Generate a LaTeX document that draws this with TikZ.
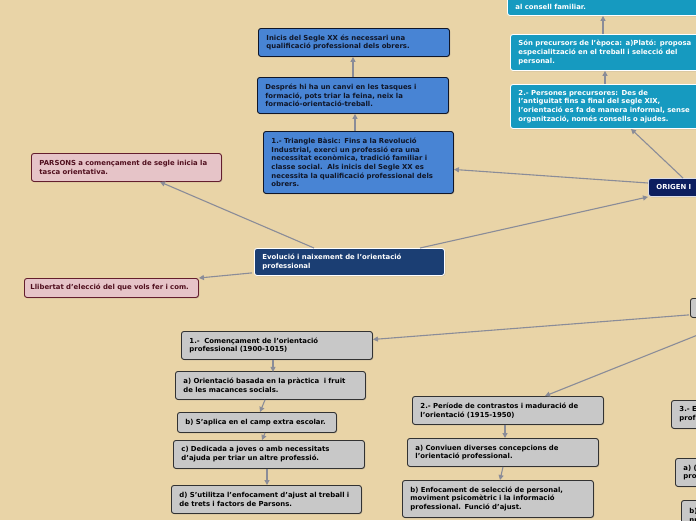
\documentclass[tikz,border=0pt]{standalone}
\usepackage{fontspec}
\setmainfont{DejaVu Sans}
\usetikzlibrary{arrows.meta,calc,shadows}
\definecolor{bg}{RGB}{233,212,167}
\definecolor{bluebox}{RGB}{72,132,212}
\definecolor{bluetext}{RGB}{16,22,40}
\definecolor{tealbox}{RGB}{22,154,192}
\definecolor{navyA}{RGB}{27,62,115}
\definecolor{navyB}{RGB}{12,30,95}
\definecolor{pinkbox}{RGB}{230,196,200}
\definecolor{pinkline}{RGB}{100,30,45}
\definecolor{pinktext}{RGB}{80,15,30}
\definecolor{graybox}{RGB}{200,200,200}
\definecolor{grayline}{RGB}{50,50,50}
\definecolor{conn}{RGB}{138,140,152}
\tikzset{
  base/.style={anchor=north west, rounded corners=2.5pt, line width=0.9pt,
    inner xsep=8pt, inner ysep=1pt, align=left,
    font=\fontsize{6.9}{8.7}\selectfont\bfseries,
    drop shadow={shadow xshift=0.8pt, shadow yshift=-0.8pt, opacity=0.35}},
  bluenode/.style={base, fill=bluebox, draw=bluetext, text=bluetext},
  tealnode/.style={base, fill=tealbox, draw=white, text=white},
  navynode/.style={base, fill=navyA, draw=white, text=white},
  darknode/.style={base, fill=navyB, draw=white!85!navyB, text=white},
  pinknode/.style={base, fill=pinkbox, draw=pinkline, text=pinktext},
  graynode/.style={base, fill=graybox, draw=grayline, text=black},
  arr/.style={draw=conn, line width=1.1pt, -{Triangle[width=5pt,length=5pt]}},
}
\newcommand{\bx}[6]{\node[#1, text width=#4pt-16pt, minimum height=#5pt] (#2) at (#3) {#6};}
\begin{document}
\begin{tikzpicture}[x=1pt,y=-1pt]
\fill[bg] (0,0) rectangle (696,520);
\useasboundingbox (0,0) rectangle (696,520);
\clip (0,0) rectangle (696,520);

% blue column
\bx{bluenode}{inicis}{258,28}{191}{28}{Inicis del Segle XX és necessari una\\qualificació professional dels obrers.}
\bx{bluenode}{despres}{257,77}{191}{36}{Després hi ha un canvi en les tasques i\\formació, pots triar la feina, neix la\\formació-orientació-treball.}
\bx{bluenode}{triangle}{263,131}{190}{62}{1.- Triangle Bàsic: Fins a la Revolució\\Industrial, exerci un professió era una\\necessitat econòmica, tradició familiar i\\classe social.\ \ Als inicis del Segle XX es\\necessita la qualificació professional dels\\obrers.}

% teal column
\bx{tealnode}{topteal}{507,-3}{200}{18}{al consell familiar.}
\bx{tealnode}{sonprec}{510,34}{200}{36}{Són precursors de l'època: a)Plató: proposa\\especialització en el treball i selecció del\\personal.}
\bx{tealnode}{persones}{510,84}{200}{44}{2.- Persones precursores: Des de\\l'antiguitat fins a final del segle XIX,\\l'orientació es fa de manera informal, sense\\organització, només consells o ajudes.}
\bx{darknode}{origen}{648,178}{90}{18}{ORIGEN I}

% pink
\bx{pinknode}{parsons}{31,153}{190}{28}{PARSONS a començament de segle inicia la\\tasca orientativa.}
\node[pinknode, inner xsep=6pt, text width=162pt, minimum height=19pt] (llibertat) at (24,278) {Llibertat d'elecció del que vols fer i com.};

% center
\bx{navynode}{evolucio}{254,248}{190}{27}{Evolució i naixement de l'orientació\\professional}

% gray
\bx{graynode}{rgray}{690,298}{100}{19}{}
\bx{graynode}{comenc}{181,331}{191}{28}{1.-\ \ Començament de l'orientació\\professional (1900-1015)}
\bx{graynode}{ca}{175,371}{190}{28}{a) Orientació basada en la pràctica\ \ i fruit\\de les macances socials.}
\bx{graynode}{cb}{177,412}{159}{20}{b) S'aplica en el camp extra escolar.}
\bx{graynode}{cc}{173,440}{191}{28}{c) Dedicada a joves o amb necessitats\\d'ajuda per triar un altre professió.}
\bx{graynode}{cd}{171,485}{190}{28}{d) S'utilitza l'enfocament d'ajust al treball i\\de trets i factors de Parsons.}
\bx{graynode}{periode}{412,396}{191}{28}{2.- Període de contrastos i maduració de\\l'orientació (1915-1950)}
\bx{graynode}{pa}{407,438}{191}{28}{a) Conviuen diverses concepcions de\\l'orientació professional.}
\bx{graynode}{pb}{402,480}{191}{37}{b) Enfocament de selecció de personal,\\moviment psicomètric i la informació\\professional. Funció d'ajust.}
\bx{graynode}{e3}{671,400}{60}{28}{3.- E\\prof}
\bx{graynode}{e3a}{675,458}{60}{28}{a) (\\pro}
\bx{graynode}{e3b}{681,500}{60}{30}{b)\\nu}

% connectors
\draw[arr] ($(evolucio.north west)+(166,0)$) -- (origen.south west);
\draw[arr] ($(evolucio.north west)+(60,0)$) -- ($(parsons.south west)+(129,0)$);
\draw[arr] ($(evolucio.south west)+(-2,-3)$) -- (llibertat.north east);
\draw[arr] ($(origen.north west)+(0,5)$) -- ($(triangle.east)+(0,7)$);
\draw[arr] ($(origen.north west)+(35,0)$) -- ($(persones.south west)+(121,0)$);
\draw[arr] ($(persones.north west)+(95,0)$) -- ($(sonprec.south west)+(95,0)$);
\draw[arr] ($(sonprec.north west)+(93,0)$) -- ($(topteal.south west)+(96,0)$);
\draw[arr] ($(triangle.north west)+(92,0)$) -- ($(despres.south west)+(98,0)$);
\draw[arr] ($(despres.north west)+(96,0)$) -- ($(inicis.south west)+(95,0)$);
\draw[arr] ($(rgray.south west)+(-1,-3)$) -- ($(comenc.east)+(0,-6)$);
\draw[arr] (rgray.south) -- ($(periode.north west)+(133,0)$);
\draw[arr] ($(comenc.south west)+(92,0)$) -- ($(ca.south west)+(98,-28)$);
\draw[arr] ($(ca.south west)+(90,0)$) -- ($(cb.north west)+(83,0)$);
\draw[arr] ($(cb.south west)+(88,0)$) -- ($(cc.north west)+(89,0)$);
\draw[arr] ($(cc.south west)+(94,0)$) -- ($(cd.north west)+(96,0)$);
\draw[arr] ($(periode.south west)+(93,0)$) -- ($(pa.north west)+(98,0)$);
\draw[arr] ($(pa.south west)+(96,0)$) -- ($(pb.north west)+(98,0)$);
\end{tikzpicture}
\end{document}
